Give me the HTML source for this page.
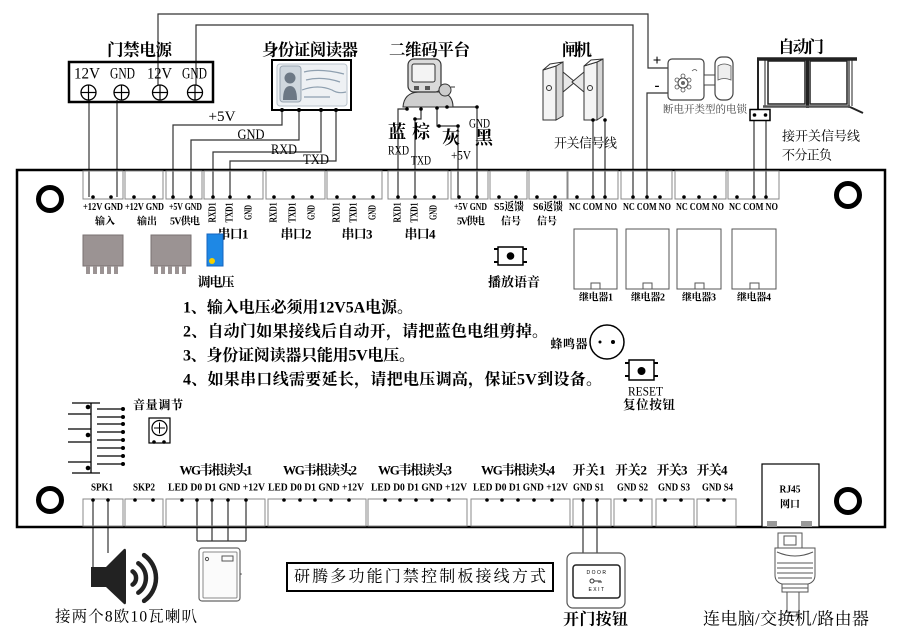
<!DOCTYPE html>
<html><head><meta charset="utf-8"><style>
html,body{margin:0;padding:0;background:#fff;}
svg{display:block}
text{font-family:"Liberation Serif","Noto Serif CJK SC",serif;dominant-baseline:central;fill:#000;}
.s{font-size:11px;font-weight:bold;text-anchor:middle}
.r{font-size:10px;font-weight:bold;text-anchor:middle}
.c{font-size:10px;font-weight:bold;text-anchor:middle}
.t{font-size:16.5px;font-weight:bold;text-anchor:middle}
.m{font-size:13px;font-weight:bold;text-anchor:middle}
.n{font-size:16px;font-weight:bold}
</style></head><body>
<svg width="900" height="636" viewBox="0 0 900 636" xmlns="http://www.w3.org/2000/svg">
<rect width="900" height="636" fill="#fff"/>

<!-- ===== wires (drawn first) ===== -->
<g fill="none" stroke="#333" stroke-width="1.2">
<polyline points="158,86 158,14 648,14 648,68 668,68"/>
<polyline points="196,86 196,25 633,25 633,197"/>
<polyline points="668,93 647,93 647,197"/>
<line x1="89" y1="100" x2="89" y2="197"/>
<line x1="117" y1="100" x2="117" y2="197"/>
<polyline points="282,110 282,125 173,125 173,197"/>
<polyline points="299,110 299,140 191,140 191,197"/>
<polyline points="321,110 321,152 213,152 213,197"/>
<polyline points="336,110 336,161 230,161 230,197"/>
<polyline points="407,109 398,109 398,197"/>
<polyline points="421,109 421,119 415,119 415,197"/>
<polyline points="437,109 437,126 458,126 458,197"/>
<polyline points="447,107 477,107 477,197"/>
<line x1="593" y1="120" x2="593" y2="197"/>
<line x1="605" y1="120" x2="605" y2="197"/>
<line x1="754" y1="115" x2="754" y2="197"/>
<line x1="766" y1="115" x2="766" y2="197"/>
<!-- bottom -->
<line x1="93" y1="500" x2="93" y2="568"/>
<line x1="108" y1="500" x2="108" y2="553"/>
<line x1="197" y1="500" x2="197" y2="541"/>
<line x1="212" y1="500" x2="212" y2="541"/>
<line x1="228" y1="500" x2="228" y2="541"/>
<line x1="246" y1="500" x2="246" y2="541"/>
<line x1="197" y1="541" x2="246" y2="541"/>
<line x1="583" y1="500" x2="583" y2="553"/>
<line x1="597" y1="500" x2="597" y2="553"/>
</g>

<!-- ===== power supply ===== -->
<text class="t" x="139.5" y="50" textLength="65">门禁电源</text>
<rect x="69" y="62" width="144" height="40" fill="none" stroke="#000" stroke-width="2.5"/>
<g style="font-size:16px;text-anchor:middle">
<text x="87" y="74" textLength="26" lengthAdjust="spacingAndGlyphs">12V</text>
<text x="122.5" y="74" textLength="25" lengthAdjust="spacingAndGlyphs">GND</text>
<text x="159.5" y="74" textLength="25" lengthAdjust="spacingAndGlyphs">12V</text>
<text x="194.5" y="74" textLength="25" lengthAdjust="spacingAndGlyphs">GND</text>
</g>
<g fill="#fff" stroke="#000" stroke-width="1.3">
<circle cx="88.5" cy="92.5" r="7.5"/><circle cx="121.5" cy="92.5" r="7.5"/><circle cx="160" cy="92.5" r="7.5"/><circle cx="195" cy="92.5" r="7.5"/>
</g>
<g stroke="#000" stroke-width="1.2">
<line x1="81" y1="92.5" x2="96" y2="92.5"/><line x1="88.5" y1="85" x2="88.5" y2="100"/>
<line x1="114" y1="92.5" x2="129" y2="92.5"/><line x1="121.5" y1="85" x2="121.5" y2="100"/>
<line x1="152.5" y1="92.5" x2="167.5" y2="92.5"/><line x1="160" y1="85" x2="160" y2="100"/>
<line x1="187.5" y1="92.5" x2="202.5" y2="92.5"/><line x1="195" y1="85" x2="195" y2="100"/>
</g>

<!-- ===== ID reader ===== -->
<text class="t" x="310" y="50" textLength="96">身份证阅读器</text>
<rect x="272" y="60" width="79" height="50" fill="#fff" stroke="#000" stroke-width="2"/>
<rect x="277" y="64" width="70" height="42" rx="3" fill="#eef1f4" stroke="#b9c3cc"/>
<rect x="280" y="66" width="21" height="36" rx="3" fill="#cfd7de" stroke="#9aa6b2"/>
<circle cx="290" cy="78" r="5.5" fill="#6c7885"/>
<path d="M283,100 Q283,86 290,86 Q297,86 297,100 Z" fill="#6c7885"/>
<g fill="none" stroke="#8fa0b0" stroke-width="1.2">
<path d="M304,72 Q320,68 344,74"/><path d="M306,80 Q322,76 340,82"/>
<path d="M302,90 Q318,84 332,90 Q338,94 346,92"/><path d="M304,97 L330,97"/>
</g>
<g fill="#000"><circle cx="282" cy="110" r="2"/><circle cx="299" cy="110" r="2"/><circle cx="321" cy="110" r="2"/><circle cx="336" cy="110" r="2"/></g>
<g style="font-size:15px;text-anchor:middle">
<text x="222" y="117" textLength="27" lengthAdjust="spacingAndGlyphs">+5V</text>
<text x="251" y="135" textLength="27" lengthAdjust="spacingAndGlyphs">GND</text>
<text x="284" y="150" textLength="26" lengthAdjust="spacingAndGlyphs">RXD</text>
<text x="316" y="160" textLength="26" lengthAdjust="spacingAndGlyphs">TXD</text>
</g>

<!-- ===== QR platform ===== -->
<text class="t" x="429.5" y="50" textLength="81">二维码平台</text>
<path d="M403,107 Q404,93 418,92 L442,92 Q453,95 453,107 Z" fill="#cfcfcf" stroke="#333" stroke-width="1.1"/>
<rect x="408" y="59" width="33" height="33" rx="6" fill="#dadada" stroke="#333" stroke-width="1.2"/>
<rect x="412" y="64" width="23" height="18" rx="2" fill="#f3f3f3" stroke="#333"/>
<rect x="414" y="86" width="5" height="4" fill="#555"/><rect x="425" y="86" width="5" height="4" fill="#555"/>
<circle cx="445" cy="90" r="6" fill="#ccc" stroke="#333"/>
<line x1="451" y1="87" x2="455" y2="87" stroke="#333"/>
<g fill="#000"><circle cx="407" cy="109" r="1.8"/><circle cx="421" cy="109" r="1.8"/><circle cx="437" cy="108" r="1.8"/><circle cx="447" cy="107" r="1.8"/><circle cx="415" cy="119" r="1.8"/><circle cx="439" cy="126" r="1.8"/><circle cx="458" cy="126" r="1.8"/><circle cx="477" cy="107" r="1.8"/></g>
<text style="font-size:18px;text-anchor:middle;font-weight:bold" x="397" y="132">蓝</text>
<text style="font-size:18px;text-anchor:middle;font-weight:bold" x="421" y="132">棕</text>
<text style="font-size:18px;text-anchor:middle;font-weight:bold" x="451" y="138">灰</text>
<text style="font-size:18px;text-anchor:middle;font-weight:bold" x="484" y="138">黑</text>
<g style="font-size:13px;text-anchor:middle">
<text x="398.5" y="150" textLength="21" lengthAdjust="spacingAndGlyphs">RXD</text>
<text x="421" y="160" textLength="20" lengthAdjust="spacingAndGlyphs">TXD</text>
<text x="461" y="155" textLength="20" lengthAdjust="spacingAndGlyphs">+5V</text>
<text x="479.5" y="123" textLength="21" lengthAdjust="spacingAndGlyphs">GND</text>
</g>

<!-- ===== gate ===== -->
<text class="t" x="577" y="50" textLength="30">闸机</text>
<g stroke="#333" stroke-width="1">
<polygon points="543,70 556,66 556,120 543,120" fill="#f4f4f4"/>
<polygon points="556,66 563,62 563,116 556,120" fill="#d6d6d6"/>
<polygon points="543,70 550,64 563,62 556,66" fill="#fff"/>
<circle cx="549" cy="88" r="2.5" fill="none"/>
<polygon points="563,72 575,82 563,92" fill="#e8e8e8"/>
<polygon points="584,72 572,82 584,92" fill="#e8e8e8"/>
<polygon points="584,66 597,62 597,120 584,120" fill="#f4f4f4"/>
<polygon points="597,62 603,59 603,116 597,120" fill="#d6d6d6"/>
<polygon points="584,66 591,60 603,59 597,62" fill="#fff"/>
<circle cx="590" cy="88" r="2.5" fill="none"/>
</g>
<circle cx="593" cy="120" r="1.8"/><circle cx="605" cy="120" r="1.8"/>
<text class="m" x="585.5" y="143" textLength="63" style="font-weight:normal">开关信号线</text>

<!-- ===== lock ===== -->
<text style="font-size:15px;font-weight:bold;text-anchor:middle" x="657" y="61">+</text>
<text style="font-size:15px;font-weight:bold;text-anchor:middle" x="657" y="86">-</text>
<rect x="668" y="59" width="36" height="41" rx="4" fill="#fff" stroke="#444" stroke-width="1.2"/>
<circle cx="683" cy="83" r="5" fill="none" stroke="#444"/>
<circle cx="683" cy="83" r="2" fill="#666"/>
<g fill="none" stroke="#555" stroke-width="0.8"><circle cx="683" cy="76" r="2"/><circle cx="689" cy="80" r="2"/><circle cx="689" cy="87" r="2"/><circle cx="683" cy="90" r="2"/><circle cx="677" cy="87" r="2"/><circle cx="677" cy="80" r="2"/><path d="M692,71 q3,-3 5,0"/></g>
<rect x="704" y="75" width="11" height="10" fill="#fff" stroke="#444"/>
<rect x="715" y="57" width="18" height="43" rx="7" fill="#fff" stroke="#444" stroke-width="1.2"/>
<path d="M718,66 Q724,62 731,66 L731,80 Q724,77 718,80 Z" fill="#eee" stroke="#555" stroke-width="0.8"/>
<text style="font-size:10.5px;text-anchor:middle;fill:#444" x="705" y="110" textLength="84">断电开类型的电锁</text>

<!-- ===== auto door ===== -->
<text class="t" x="801" y="47" textLength="46">自动门</text>
<g stroke="#222" fill="none">
<line x1="757" y1="59" x2="857" y2="59" stroke-width="3.5"/>
<line x1="758" y1="59" x2="758" y2="110" stroke-width="2"/>
<line x1="765" y1="60" x2="765" y2="106" stroke-width="1"/>
<rect x="768" y="61" width="37" height="43" stroke-width="1.5"/>
<line x1="807.5" y1="59" x2="807.5" y2="108" stroke-width="3"/>
<rect x="810" y="61" width="37" height="43" stroke-width="1.5"/>
<line x1="849" y1="59" x2="849" y2="108" stroke-width="1.2"/>
<line x1="852" y1="59" x2="852" y2="106" stroke-width="1"/>
<line x1="763" y1="106.5" x2="850" y2="106.5" stroke-width="2.5" stroke="#555"/>
<line x1="850" y1="107" x2="863" y2="113" stroke-width="2"/>
</g>
<rect x="750" y="109.5" width="20" height="11" fill="#fff" stroke="#000" stroke-width="1.5"/>
<circle cx="754.5" cy="115" r="1.8"/><circle cx="765.5" cy="115" r="1.8"/>
<text class="m" x="821" y="136" textLength="78" style="font-weight:normal">接开关信号线</text>
<text class="m" x="807" y="155" textLength="50" style="font-weight:normal">不分正负</text>

<!-- ===== board ===== -->
<rect x="17" y="170" width="868" height="357" fill="none" stroke="#000" stroke-width="2.5"/>
<g fill="none" stroke="#000" stroke-width="5">
<circle cx="50" cy="199" r="11.5"/><circle cx="848" cy="195" r="11.5"/><circle cx="50" cy="500" r="11.5"/><circle cx="848" cy="501" r="11.5"/>
</g>

<!-- top terminal blocks -->
<g fill="none" stroke="#888" stroke-width="1">
<rect x="83" y="171" width="40" height="28"/><rect x="125" y="171" width="38" height="28"/><rect x="166" y="171" width="36" height="28"/>
<rect x="204" y="171" width="59" height="28"/><rect x="266" y="171" width="59" height="28"/><rect x="327" y="171" width="55" height="28"/>
<rect x="388" y="171" width="60" height="28"/><rect x="451" y="171" width="37" height="28"/><rect x="490" y="171" width="37" height="28"/>
<rect x="529" y="171" width="38" height="28"/><rect x="568" y="171" width="50" height="28"/><rect x="621" y="171" width="51" height="28"/>
<rect x="675" y="171" width="51" height="28"/><rect x="728" y="171" width="51" height="28"/>
</g>
<g fill="#000">
<circle cx="93" cy="197" r="1.8"/><circle cx="111" cy="197" r="1.8"/><circle cx="134" cy="197" r="1.8"/><circle cx="154" cy="197" r="1.8"/>
<circle cx="173" cy="197" r="1.8"/><circle cx="191" cy="197" r="1.8"/>
<circle cx="213" cy="197" r="1.8"/><circle cx="230" cy="197" r="1.8"/><circle cx="249" cy="197" r="1.8"/>
<circle cx="274" cy="197" r="1.8"/><circle cx="293" cy="197" r="1.8"/><circle cx="312" cy="197" r="1.8"/>
<circle cx="337" cy="197" r="1.8"/><circle cx="354" cy="197" r="1.8"/><circle cx="373" cy="197" r="1.8"/>
<circle cx="398" cy="197" r="1.8"/><circle cx="415" cy="197" r="1.8"/><circle cx="434" cy="197" r="1.8"/>
<circle cx="459" cy="197" r="1.8"/><circle cx="477" cy="197" r="1.8"/>
<circle cx="499" cy="197" r="1.8"/><circle cx="516" cy="197" r="1.8"/>
<circle cx="537" cy="197" r="1.8"/><circle cx="555" cy="197" r="1.8"/>
<circle cx="577" cy="197" r="1.8"/><circle cx="593" cy="197" r="1.8"/><circle cx="605" cy="197" r="1.8"/>
<circle cx="633" cy="197" r="1.8"/><circle cx="647" cy="197" r="1.8"/><circle cx="660" cy="197" r="1.8"/>
<circle cx="684" cy="197" r="1.8"/><circle cx="699" cy="197" r="1.8"/><circle cx="715" cy="197" r="1.8"/>
<circle cx="737" cy="197" r="1.8"/><circle cx="754" cy="197" r="1.8"/><circle cx="766" cy="197" r="1.8"/>
</g>
<!-- top labels -->
<g class="s">
<text class="s" x="103" y="207" textLength="40" lengthAdjust="spacingAndGlyphs">+12V GND</text>
<text class="s" x="144.5" y="207" textLength="39" lengthAdjust="spacingAndGlyphs">+12V GND</text>
<text class="s" x="185.5" y="207" textLength="33" lengthAdjust="spacingAndGlyphs">+5V GND</text>
<text class="s" x="470.5" y="207" textLength="33" lengthAdjust="spacingAndGlyphs">+5V GND</text>
<text class="s" x="509" y="207" textLength="30" lengthAdjust="spacingAndGlyphs">S5返馈</text>
<text class="s" x="548" y="207" textLength="30" lengthAdjust="spacingAndGlyphs">S6返馈</text>
<text class="s" x="593" y="207" textLength="48" lengthAdjust="spacingAndGlyphs">NC COM NO</text>
<text class="s" x="647" y="207" textLength="48" lengthAdjust="spacingAndGlyphs">NC COM NO</text>
<text class="s" x="700" y="207" textLength="48" lengthAdjust="spacingAndGlyphs">NC COM NO</text>
<text class="s" x="753.5" y="207" textLength="49" lengthAdjust="spacingAndGlyphs">NC COM NO</text>
</g>
<text class="c" x="105" y="222">输入</text>
<text class="c" x="147" y="222">输出</text>
<text class="c" x="185" y="222" textLength="30">5V供电</text>
<text class="c" x="471" y="222" textLength="28">5V供电</text>
<text class="c" x="511" y="222">信号</text>
<text class="c" x="547" y="222">信号</text>
<!-- rotated serial labels -->
<g>
<text class="r" transform="translate(213,212.5) rotate(-90)" textLength="20" lengthAdjust="spacingAndGlyphs">RXD1</text>
<text class="r" transform="translate(230,212.5) rotate(-90)" textLength="20" lengthAdjust="spacingAndGlyphs">TXD1</text>
<text class="r" transform="translate(249,212.5) rotate(-90)" textLength="15" lengthAdjust="spacingAndGlyphs">GND</text>
<text class="r" transform="translate(274,212.5) rotate(-90)" textLength="20" lengthAdjust="spacingAndGlyphs">RXD1</text>
<text class="r" transform="translate(293,212.5) rotate(-90)" textLength="20" lengthAdjust="spacingAndGlyphs">TXD1</text>
<text class="r" transform="translate(312,212.5) rotate(-90)" textLength="15" lengthAdjust="spacingAndGlyphs">GND</text>
<text class="r" transform="translate(337,212.5) rotate(-90)" textLength="20" lengthAdjust="spacingAndGlyphs">RXD1</text>
<text class="r" transform="translate(354,212.5) rotate(-90)" textLength="20" lengthAdjust="spacingAndGlyphs">TXD1</text>
<text class="r" transform="translate(373,212.5) rotate(-90)" textLength="15" lengthAdjust="spacingAndGlyphs">GND</text>
<text class="r" transform="translate(398,212.5) rotate(-90)" textLength="20" lengthAdjust="spacingAndGlyphs">RXD1</text>
<text class="r" transform="translate(415,212.5) rotate(-90)" textLength="20" lengthAdjust="spacingAndGlyphs">TXD1</text>
<text class="r" transform="translate(434,212.5) rotate(-90)" textLength="15" lengthAdjust="spacingAndGlyphs">GND</text>
</g>
<text class="m" x="233" y="234" textLength="31">串口1</text>
<text class="m" x="296" y="234" textLength="31">串口2</text>
<text class="m" x="357" y="234" textLength="31">串口3</text>
<text class="m" x="420" y="234" textLength="31">串口4</text>

<!-- regulators -->
<g fill="#9b9393" stroke="#7a7272">
<rect x="83" y="235" width="40" height="31"/><rect x="151" y="235" width="40" height="31"/>
</g>
<g fill="#9b9393">
<rect x="86" y="266" width="4" height="8"/><rect x="93" y="266" width="4" height="8"/><rect x="100" y="266" width="4" height="8"/><rect x="107" y="266" width="4" height="8"/><rect x="114" y="266" width="4" height="8"/>
<rect x="154" y="266" width="4" height="8"/><rect x="161" y="266" width="4" height="8"/><rect x="168" y="266" width="4" height="8"/><rect x="175" y="266" width="4" height="8"/><rect x="182" y="266" width="4" height="8"/>
</g>
<rect x="207" y="234" width="16" height="32" fill="#1e88e5" stroke="#1565c0"/>
<circle cx="212" cy="261" r="3" fill="#f5d000"/>
<text class="m" x="216" y="282" textLength="37">调电压</text>

<!-- play button -->
<rect x="498" y="247" width="25" height="18" fill="#fff" stroke="#000" stroke-width="1.5"/>
<circle cx="510.5" cy="256" r="3.8"/>
<g stroke="#000" stroke-width="2"><line x1="494" y1="249" x2="498" y2="249"/><line x1="494" y1="262" x2="498" y2="262"/><line x1="523" y1="249" x2="527" y2="249"/><line x1="523" y1="262" x2="527" y2="262"/></g>
<text class="m" x="514" y="282" textLength="52">播放语音</text>

<!-- relays -->
<g fill="#fff" stroke="#555" stroke-width="1">
<rect x="574" y="229" width="43" height="60"/><rect x="591" y="283" width="9" height="6"/>
<rect x="626" y="229" width="43" height="60"/><rect x="643" y="283" width="9" height="6"/>
<rect x="677" y="229" width="44" height="60"/><rect x="695" y="283" width="9" height="6"/>
<rect x="732" y="229" width="44" height="60"/><rect x="750" y="283" width="9" height="6"/>
</g>
<text class="c" x="596" y="298" textLength="34">继电器1</text>
<text class="c" x="648" y="298" textLength="34">继电器2</text>
<text class="c" x="699" y="298" textLength="34">继电器3</text>
<text class="c" x="754" y="298" textLength="34">继电器4</text>

<!-- notes -->
<text class="n" x="183" y="308" textLength="230">1、输入电压必须用12V5A电源。</text>
<text class="n" x="183" y="332" textLength="365">2、自动门如果接线后自动开，请把蓝色电组剪掉。</text>
<text class="n" x="183" y="356" textLength="232">3、身份证阅读器只能用5V电压。</text>
<text class="n" x="183" y="380" textLength="419">4、如果串口线需要延长，请把电压调高，保证5V到设备。</text>

<!-- buzzer -->
<circle cx="607" cy="342" r="17" fill="none" stroke="#000" stroke-width="1.5"/>
<circle cx="600" cy="342" r="1.5"/><circle cx="613" cy="342" r="2"/>
<text class="m" x="569" y="344" textLength="37" style="font-size:12px">蜂鸣器</text>

<!-- reset -->
<rect x="629" y="360" width="25" height="20" fill="#fff" stroke="#000" stroke-width="1.5"/>
<circle cx="641.5" cy="371" r="4"/>
<g stroke="#000" stroke-width="2"><line x1="625" y1="363" x2="629" y2="363"/><line x1="625" y1="376" x2="629" y2="376"/><line x1="654" y1="363" x2="658" y2="363"/><line x1="654" y1="376" x2="658" y2="376"/></g>
<text style="font-size:13px;text-anchor:middle" x="645.5" y="391" textLength="35" lengthAdjust="spacingAndGlyphs">RESET</text>
<text class="m" x="649" y="405" textLength="52" style="font-size:12.5px">复位按钮</text>

<!-- volume -->
<text class="m" x="158" y="405" textLength="50" style="font-size:12px">音量调节</text>
<rect x="149" y="418" width="21" height="25" fill="#fff" stroke="#000" stroke-width="1.2"/>
<circle cx="159.5" cy="428" r="7.5" fill="#fff" stroke="#000" stroke-width="1.2"/>
<line x1="154" y1="428" x2="165" y2="428" stroke="#000"/><line x1="159.5" y1="422.5" x2="159.5" y2="433.5" stroke="#000"/>
<circle cx="154" cy="442" r="1.8"/><circle cx="164" cy="442" r="1.8"/>

<!-- speaker header comb -->
<g stroke="#000" stroke-width="1.3">
<line x1="72" y1="403" x2="100" y2="403"/>
<line x1="91" y1="403" x2="91" y2="473"/>
<line x1="72" y1="473" x2="100" y2="473"/>
<line x1="68" y1="414" x2="91" y2="414"/><line x1="68" y1="429" x2="91" y2="429"/>
<line x1="68" y1="442" x2="91" y2="442"/><line x1="68" y1="462" x2="91" y2="462"/>
<line x1="97" y1="409" x2="123" y2="409"/><line x1="97" y1="417" x2="123" y2="417"/>
<line x1="97" y1="424" x2="123" y2="424"/><line x1="97" y1="432" x2="123" y2="432"/>
<line x1="97" y1="440" x2="123" y2="440"/><line x1="97" y1="448" x2="123" y2="448"/>
<line x1="97" y1="456" x2="123" y2="456"/><line x1="97" y1="464" x2="123" y2="464"/>
</g>
<g fill="#000">
<circle cx="123" cy="409" r="2"/><circle cx="123" cy="417" r="2"/><circle cx="123" cy="424" r="2"/><circle cx="123" cy="432" r="2"/>
<circle cx="123" cy="440" r="2"/><circle cx="123" cy="448" r="2"/><circle cx="123" cy="456" r="2"/><circle cx="123" cy="464" r="2"/>
<circle cx="88" cy="407" r="2.3"/><circle cx="88" cy="435" r="2.3"/><circle cx="88" cy="468" r="2.3"/>
</g>

<!-- bottom titles -->
<text class="m" x="216" y="470" textLength="73">WG韦根读头1</text>
<text class="m" x="320" y="470" textLength="74">WG韦根读头2</text>
<text class="m" x="415" y="470" textLength="74">WG韦根读头3</text>
<text class="m" x="518" y="470" textLength="74">WG韦根读头4</text>
<text class="m" x="589" y="470" textLength="33">开关1</text>
<text class="m" x="631" y="470" textLength="32">开关2</text>
<text class="m" x="672" y="470" textLength="31">开关3</text>
<text class="m" x="712" y="470" textLength="31">开关4</text>
<g>
<text class="s" style="font-size:10px" x="102" y="488" textLength="22" lengthAdjust="spacingAndGlyphs">SPK1</text>
<text class="s" style="font-size:10px" x="144" y="488" textLength="22" lengthAdjust="spacingAndGlyphs">SKP2</text>
<text class="s" style="font-size:10px" x="216.5" y="488" textLength="97" lengthAdjust="spacingAndGlyphs">LED D0 D1 GND +12V</text>
<text class="s" style="font-size:10px" x="316" y="488" textLength="96" lengthAdjust="spacingAndGlyphs">LED D0 D1 GND +12V</text>
<text class="s" style="font-size:10px" x="419" y="488" textLength="96" lengthAdjust="spacingAndGlyphs">LED D0 D1 GND +12V</text>
<text class="s" style="font-size:10px" x="520.5" y="488" textLength="95" lengthAdjust="spacingAndGlyphs">LED D0 D1 GND +12V</text>
<text class="s" style="font-size:10px" x="588.5" y="488" textLength="31" lengthAdjust="spacingAndGlyphs">GND S1</text>
<text class="s" style="font-size:10px" x="632.5" y="488" textLength="31" lengthAdjust="spacingAndGlyphs">GND S2</text>
<text class="s" style="font-size:10px" x="674" y="488" textLength="32" lengthAdjust="spacingAndGlyphs">GND S3</text>
<text class="s" style="font-size:10px" x="717.5" y="488" textLength="31" lengthAdjust="spacingAndGlyphs">GND S4</text>
</g>
<!-- bottom terminal blocks -->
<g fill="none" stroke="#888" stroke-width="1">
<rect x="83" y="499" width="40" height="27"/><rect x="125" y="499" width="38" height="27"/>
<rect x="166" y="499" width="99" height="27"/><rect x="268" y="499" width="98" height="27"/>
<rect x="368" y="499" width="99" height="27"/><rect x="471" y="499" width="99" height="27"/>
<rect x="573" y="499" width="38" height="27"/><rect x="614" y="499" width="38" height="27"/>
<rect x="656" y="499" width="38" height="27"/><rect x="697" y="499" width="39" height="27"/>
</g>
<g fill="#000">
<circle cx="93" cy="500" r="1.8"/><circle cx="108" cy="500" r="1.8"/><circle cx="135" cy="500" r="1.8"/><circle cx="153" cy="500" r="1.8"/>
<circle cx="182" cy="500" r="1.8"/><circle cx="197" cy="500" r="1.8"/><circle cx="212" cy="500" r="1.8"/><circle cx="228" cy="500" r="1.8"/><circle cx="246" cy="500" r="1.8"/>
<circle cx="284" cy="500" r="1.8"/><circle cx="300" cy="500" r="1.8"/><circle cx="315" cy="500" r="1.8"/><circle cx="331" cy="500" r="1.8"/><circle cx="349" cy="500" r="1.8"/>
<circle cx="385" cy="500" r="1.8"/><circle cx="400" cy="500" r="1.8"/><circle cx="416" cy="500" r="1.8"/><circle cx="432" cy="500" r="1.8"/><circle cx="449" cy="500" r="1.8"/>
<circle cx="487" cy="500" r="1.8"/><circle cx="502" cy="500" r="1.8"/><circle cx="518" cy="500" r="1.8"/><circle cx="534" cy="500" r="1.8"/><circle cx="552" cy="500" r="1.8"/>
<circle cx="583" cy="500" r="1.8"/><circle cx="597" cy="500" r="1.8"/><circle cx="625" cy="500" r="1.8"/><circle cx="641" cy="500" r="1.8"/>
<circle cx="665" cy="500" r="1.8"/><circle cx="681" cy="500" r="1.8"/><circle cx="708" cy="500" r="1.8"/><circle cx="724" cy="500" r="1.8"/>
</g>
<!-- RJ45 -->
<rect x="762" y="464" width="57" height="63" fill="#fff" stroke="#000" stroke-width="1.2"/>
<text class="c" style="font-size:10px" x="790" y="490" textLength="21" lengthAdjust="spacingAndGlyphs">RJ45</text>
<text class="c" style="font-size:10px" x="790" y="505">网口</text>
<rect x="767" y="521" width="10" height="6" fill="#999"/><rect x="801" y="521" width="11" height="6" fill="#999"/>

<!-- ===== bottom externals ===== -->
<!-- speaker -->
<path d="M91,567 H106 L124,549 Q126,548 126,551 V602 Q126,605 124,604 L106,587 H91 Z" fill="#222"/>
<g fill="none" stroke="#222" stroke-width="4.5" stroke-linecap="round">
<path d="M132.6,571.4 A8,8 0 0 1 132.6,584.6"/>
<path d="M138.3,563.3 A18,18 0 0 1 138.3,592.7"/>
<path d="M144.1,555.1 A28,28 0 0 1 144.1,600.9"/>
</g>
<text style="font-size:15.5px;text-anchor:middle" x="126" y="617" textLength="142">接两个8欧10瓦喇叭</text>

<!-- card reader -->
<rect x="199" y="548" width="41" height="53" rx="3" fill="#fff" stroke="#666" stroke-width="1.2"/>
<rect x="203" y="552" width="34" height="46" rx="1" fill="#fbfbfb" stroke="#888"/>
<circle cx="207" cy="559" r="1.6" fill="none" stroke="#555"/>
<rect x="222" y="556" width="11" height="5" fill="none" stroke="#555"/>
<circle cx="241" cy="574" r="0.8" fill="#555"/>

<!-- title box -->
<rect x="287" y="563" width="266" height="28" fill="#fff" stroke="#000" stroke-width="2"/>
<text style="font-size:16px;text-anchor:middle" x="420" y="577" textLength="252">研腾多功能门禁控制板接线方式</text>

<!-- exit button -->
<rect x="567" y="553" width="58" height="55" rx="6" fill="#fff" stroke="#555" stroke-width="1.2"/>
<rect x="573" y="565" width="47" height="33" rx="3" fill="#fff" stroke="#222" stroke-width="1.5"/>
<text style="font-size:5px;text-anchor:middle;letter-spacing:1.5px;font-family:'Liberation Sans',sans-serif" x="597" y="573">DOOR</text>
<circle cx="592" cy="581" r="2" fill="none" stroke="#333"/>
<path d="M594,581 H601 M599,581 V583 M601,581 V583" stroke="#333" fill="none"/>
<text style="font-size:5px;text-anchor:middle;letter-spacing:1.5px;font-family:'Liberation Sans',sans-serif" x="597" y="590">EXIT</text>
<text style="font-size:16px;text-anchor:middle;font-weight:bold" x="595.5" y="620" textLength="65">开门按钮</text>

<!-- RJ45 plug -->
<g fill="#fff" stroke="#555" stroke-width="1">
<rect x="778" y="533" width="24" height="15"/>
<rect x="784" y="536" width="12" height="9"/>
<path d="M775,548 H815 V575 Q815,582 808,584 H782 Q775,582 775,575 Z"/>
<path d="M777,552 Q795,560 813,552" fill="none"/>
<line x1="777" y1="563" x2="813" y2="563"/><line x1="777" y1="568" x2="813" y2="568"/><line x1="777" y1="573" x2="813" y2="573"/><line x1="778" y1="578" x2="812" y2="578"/>
<rect x="782" y="584" width="26" height="8"/>
<line x1="782" y1="588" x2="808" y2="588"/>
<rect x="787" y="592" width="12" height="20"/>
<rect x="789" y="612" width="8" height="4"/>
</g>
<text style="font-size:17px;text-anchor:middle" x="786" y="619" textLength="166">连电脑/交换机/路由器</text>
</svg>
</body></html>
